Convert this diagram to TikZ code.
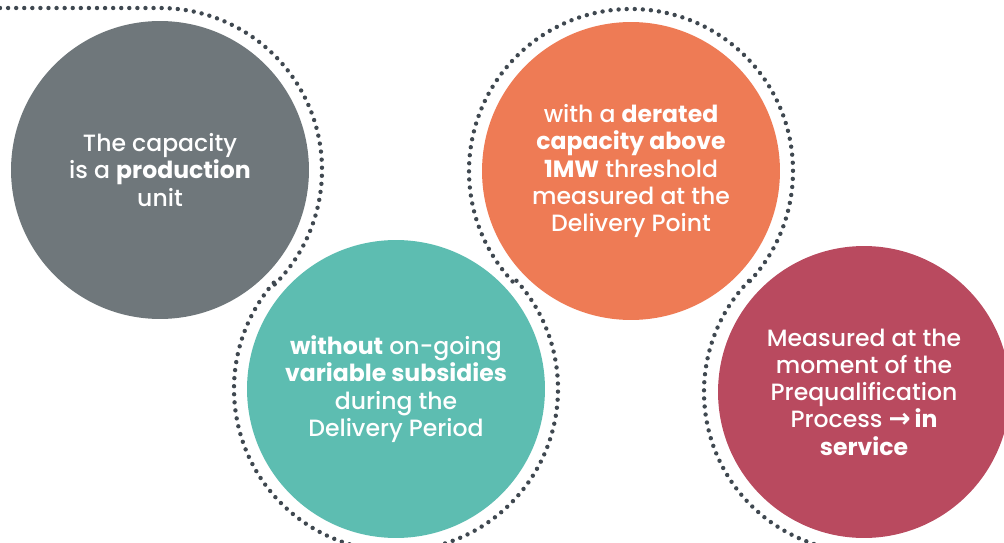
\documentclass[tikz,border=0pt]{standalone}
\usepackage{fontspec}
\setmainfont{Poppins}[UprightFont=* Medium,BoldFont=* Bold]
\newfontfamily\arrowfont{DejaVu Sans}
\definecolor{slatec}{HTML}{6F777B}
\definecolor{tealc}{HTML}{5DBDB1}
\definecolor{orangec}{HTML}{EE7B55}
\definecolor{wine}{HTML}{B94A5F}
\definecolor{dotc}{HTML}{3F4850}
\tikzset{
  bubble/.style={circle,inner sep=0pt,minimum size=5.96cm,text=white,align=center,
    font=\fontsize{13.4}{15.5}\selectfont},
  dotline/.style={dotc,line width=2.5pt,line cap=round,dash pattern=on 0pt off 4.6pt}
}

\begin{document}
\begin{tikzpicture}[x=0.02cm,y=0.02cm]
        \useasboundingbox(0,0)rectangle(1004,542);
        \clip(0,0)rectangle(1004,542);
        \node[bubble,fill=slatec](c1)at(160,372){The capacity\\is a \textbf{production}\\unit};
        \node[bubble,fill=tealc](c2)at(396,153){\textbf{without} on-going\\\textbf{variable subsidies}\\during the\\Delivery Period};
        \node[bubble,fill=orangec](c3)at(631,371){with a \textbf{derated}\\\textbf{capacity above}\\\textbf{1MW} threshold\\measured at the\\Delivery Point};
        \node[bubble,fill=wine,minimum size=5.84cm](c4)at(864,150){Measured at the\\moment of the\\Prequalification\\Process {\arrowfont\bfseries\fontsize{15}{15}\selectfont →}\,\textbf{in}\\\textbf{service}};

        \coordinate(start)at(0,534);
        \draw[dotline](start)--([yshift=3.24cm]c1.center)arc[start angle=90,end angle=-45,radius=162];
        \draw[dotline]([shift={(139:162)}]c2.center)arc[start angle=139,end angle=403,radius=162];
        \draw[dotline]([shift={(223:162)}]c3.center)arc[start angle=223,end angle=-43,radius=162];
        \draw[dotline]([shift={(136:160)}]c4.center)arc[start angle=136,end angle=265,radius=160];
    \end{tikzpicture}
\end{document}
